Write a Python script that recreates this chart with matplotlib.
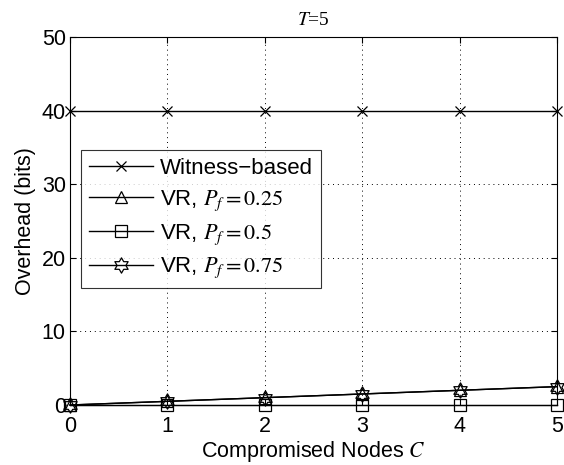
import numpy as np
import matplotlib.pyplot as plt
from matplotlib.path import Path

plt.rcParams['font.family'] = ['Liberation Sans', 'DejaVu Sans']
plt.rcParams['mathtext.fontset'] = 'stix'

#---- data ----
C_nodes      = [0, 1, 2, 3, 4, 5]
witness      = [40, 40, 40, 40, 40, 40]
vr_pf025     = [0, 0.5, 1.0, 1.5, 2.0, 2.5]
vr_pf050     = [0, 0, 0, 0, 0, 0]
vr_pf075     = [0, 0.5, 1.0, 1.5, 2.0, 2.5]
labels       = ["Witness\u2212based", r"VR, $P_f = 0.25$", r"VR, $P_f = 0.5$", r"VR, $P_f = 0.75$"]

#---- hexagram marker ----
def hexagram():
  ang = np.pi/2 + np.arange(12)*np.pi/6
  rad = np.where(np.arange(12) % 2 == 0, 1.0, 0.577)
  verts = list(zip(rad*np.cos(ang), rad*np.sin(ang)))
  verts.append(verts[0])
  codes = [Path.MOVETO] + [Path.LINETO]*11 + [Path.CLOSEPOLY]
  return Path(verts, codes)

fig = plt.figure(figsize=(5.64, 4.65), dpi=100)
ax  = fig.add_axes([0.124, 0.129, 0.864, 0.791])

style = dict(color='black', lw=1.0, mfc='none', mec='black', mew=0.9, clip_on=False)
ax.plot(C_nodes, witness,  marker='x', ms=7, label=labels[0], **style)
ax.plot(C_nodes, vr_pf025, marker='^', ms=9, label=labels[1], **style)
ax.plot(C_nodes, vr_pf050, marker='s', ms=8, label=labels[2], **style)
ax.plot(C_nodes, vr_pf075, marker=hexagram(), ms=11, label=labels[3], **style)

ax.set_xlim(0, 5)
ax.set_ylim(0, 50)
ax.set_xticks(C_nodes)
ax.set_yticks([0, 10, 20, 30, 40, 50])
ax.tick_params(labelsize=15.5, direction='in', length=4, top=True, right=True)
ax.tick_params(axis='x', pad=8)
ax.tick_params(axis='y', pad=3)
ax.grid(True, linestyle=(0, (1, 4)), color='black', lw=0.7)
for s in ax.spines.values(): s.set_linewidth(0.8)

ax.set_xlabel(r"Compromised Nodes $C$", fontsize=15.5, labelpad=1)
ax.set_ylabel("Overhead (bits)", fontsize=15.5, labelpad=4)
ax.set_title(r"$T$=5", fontsize=14, pad=9, family='Liberation Serif')

leg = ax.legend(loc='upper left', bbox_to_anchor=(0.023, 0.693), fontsize=16,
                handlelength=2.9, handletextpad=0.3, frameon=True, fancybox=False,
                edgecolor='black', borderpad=0.35, labelspacing=0.42, borderaxespad=0)
leg.get_frame().set_linewidth(0.8)

fig.savefig("out.png", dpi=100)
